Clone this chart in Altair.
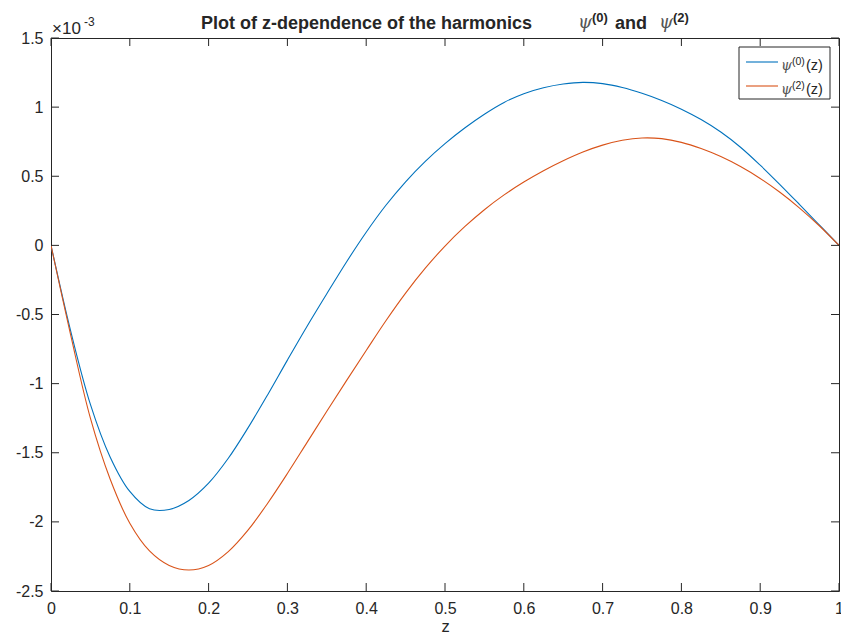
import altair as alt
import pandas as pd

# z grid and the two harmonics (in units of 1e-3)
z = [0.000, 0.025, 0.050, 0.075, 0.100, 0.125, 0.150, 0.175, 0.200, 0.225,
     0.250, 0.275, 0.300, 0.325, 0.350, 0.375, 0.400, 0.425, 0.450, 0.475,
     0.500, 0.525, 0.550, 0.575, 0.600, 0.625, 0.650, 0.675, 0.700, 0.725,
     0.750, 0.775, 0.800, 0.825, 0.850, 0.875, 0.900, 0.925, 0.950, 0.975, 1.000]

psi0 = [0.000, -0.620, -1.150, -1.530, -1.780, -1.905, -1.910, -1.845, -1.720, -1.540,
        -1.320, -1.080, -0.830, -0.585, -0.350, -0.120, 0.095, 0.290, 0.460, 0.608,
        0.736, 0.849, 0.949, 1.034, 1.097, 1.140, 1.167, 1.179, 1.170, 1.142,
        1.100, 1.048, 0.985, 0.910, 0.820, 0.710, 0.580, 0.440, 0.295, 0.148, 0.000]

psi2 = [0.000, -0.650, -1.250, -1.690, -2.010, -2.210, -2.315, -2.348, -2.315, -2.215,
        -2.060, -1.865, -1.650, -1.425, -1.200, -0.978, -0.760, -0.545, -0.345, -0.165,
        -0.005, 0.135, 0.258, 0.365, 0.458, 0.540, 0.612, 0.675, 0.725, 0.760,
        0.777, 0.772, 0.745, 0.700, 0.642, 0.570, 0.484, 0.384, 0.270, 0.142, 0.000]

x_ticks = [0, 0.1, 0.2, 0.3, 0.4, 0.5, 0.6, 0.7, 0.8, 0.9, 1]
y_ticks = [-2.5, -2, -1.5, -1, -0.5, 0, 0.5, 1, 1.5]

series_names = ["psi0", "psi2"]

W, H = 788, 553
AX = "#262626"
BLUE = "#0072BD"
ORANGE = "#D95319"
SANS = "Liberation Sans"
SERIF = "DejaVu Serif"
TICK = 8

n = len(z)
curves = pd.DataFrame({
    "z": z + z,
    "value": psi0 + psi2,
    "series": [series_names[0]] * n + [series_names[1]] * n,
})

xs = alt.Scale(domain=[0, 1], nice=False, zero=False)
ys = alt.Scale(domain=[-2.5, 1.5], nice=False, zero=False)

lines = alt.Chart(curves).mark_line(strokeWidth=1.1, interpolate="catmull-rom", clip=True).encode(
    x=alt.X("z:Q", scale=xs,
            axis=alt.Axis(values=x_ticks, format="~g", title="z", labelPadding=9,
                          labelFlush=False, titlePadding=2)),
    y=alt.Y("value:Q", scale=ys,
            axis=alt.Axis(values=y_ticks, labelExpr="datum.value", title=None,
                          labelPadding=8)),
    color=alt.Color("series:N", scale=alt.Scale(domain=series_names, range=[BLUE, ORANGE]),
                    legend=None),
    detail="series:N",
)

# inward-pointing tick marks on all four sides of the box
xt = pd.DataFrame({"z": x_ticks})
yt = pd.DataFrame({"value": y_ticks})
tick_style = dict(color=AX, strokeWidth=1)
ticks_bottom = alt.Chart(xt).mark_rule(**tick_style).encode(
    x=alt.X("z:Q", scale=xs), y=alt.value(H), y2=alt.value(H - TICK))
ticks_top = alt.Chart(xt).mark_rule(**tick_style).encode(
    x=alt.X("z:Q", scale=xs), y=alt.value(0), y2=alt.value(TICK))
ticks_left = alt.Chart(yt).mark_rule(**tick_style).encode(
    y=alt.Y("value:Q", scale=ys), x=alt.value(0), x2=alt.value(TICK))
ticks_right = alt.Chart(yt).mark_rule(**tick_style).encode(
    y=alt.Y("value:Q", scale=ys), x=alt.value(W), x2=alt.value(W - TICK))

one = alt.Data(values=[{"k": 1}])


def label(text, x, y, size, weight="normal", font=SANS, color=AX, italic=False):
    kw = dict(text=text, font=font, fontSize=size, fontWeight=weight, color=color,
              align="left", baseline="alphabetic")
    if italic:
        kw["fontStyle"] = "italic"
    return alt.Chart(one).mark_text(**kw).encode(x=alt.value(x), y=alt.value(y))


PSI = "\u03c8"
PSI_COLOR = "#555555"

title_parts = [
    label("Plot of z-dependence of the harmonics", 150, -9, 18, weight="bold"),
    label(PSI, 527, -10, 18, font=SERIF, color=PSI_COLOR, italic=True),
    label("(0)", 541, -16, 13, weight="bold"),
    label("and", 564, -9, 18, weight="bold"),
    label(PSI, 608, -10, 18, font=SERIF, color=PSI_COLOR, italic=True),
    label("(2)", 622, -16, 13, weight="bold"),
]

exponent = [
    label("\u00d710", 1, -4, 17),
    label("-3", 33, -12, 12),
]

# legend box
legend_box = alt.Chart(one).mark_rect(fill="white", stroke=AX, strokeWidth=1).encode(
    x=alt.value(688), x2=alt.value(779), y=alt.value(9), y2=alt.value(61))
legend_lines = [
    alt.Chart(one).mark_rule(color=c, strokeWidth=1.1).encode(
        x=alt.value(695), x2=alt.value(727), y=alt.value(yy))
    for c, yy in [(BLUE, 24), (ORANGE, 48)]
]
legend_text = []
for k, yy in [("0", 32), ("2", 56)]:
    legend_text += [
        label(PSI, 730, yy, 14, font=SERIF, color=PSI_COLOR, italic=True),
        label("(" + k + ")", 741, yy - 5, 10.5),
        label("(z)", 755, yy, 14.5),
    ]

chart = alt.layer(
    lines, ticks_bottom, ticks_top, ticks_left, ticks_right,
    *title_parts, *exponent, legend_box, *legend_lines, *legend_text,
).properties(
    width=W, height=H,
    padding={"left": 51, "top": 38, "right": 2, "bottom": 45},
    autosize=alt.AutoSizeParams(type="none"),
    background="white",
).configure_view(
    stroke=AX, strokeWidth=1,
).configure_axis(
    domain=False, grid=False, ticks=False,
    labelFont=SANS, labelFontSize=16, labelColor=AX,
    titleFont=SANS, titleFontSize=16.5, titleColor=AX, titleFontWeight="normal",
)

chart.save("out.html", embed_options={"renderer": "svg", "actions": False})
